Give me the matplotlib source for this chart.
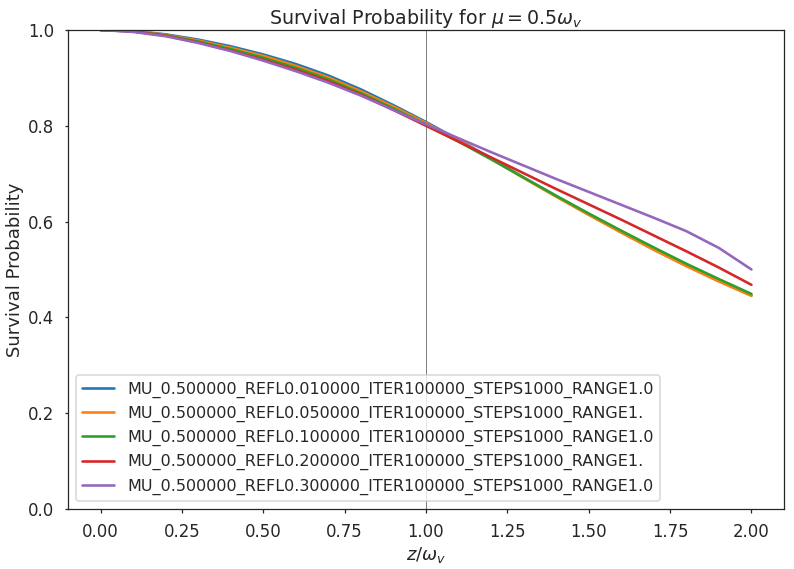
import matplotlib
matplotlib.use("Agg")
import matplotlib.pyplot as plt
import seaborn as sns

x = [0.0, 0.1, 0.2, 0.3, 0.4, 0.5, 0.6, 0.7, 0.8, 0.9, 1.0,
     1.1, 1.2, 1.3, 1.4, 1.5, 1.6, 1.7, 1.8, 1.9, 2.0]

labels = [
    "MU_0.500000_REFL0.010000_ITER100000_STEPS1000_RANGE1.0",
    "MU_0.500000_REFL0.050000_ITER100000_STEPS1000_RANGE1.",
    "MU_0.500000_REFL0.100000_ITER100000_STEPS1000_RANGE1.0",
    "MU_0.500000_REFL0.200000_ITER100000_STEPS1000_RANGE1.",
    "MU_0.500000_REFL0.300000_ITER100000_STEPS1000_RANGE1.0",
]

refl_001 = [1.000, 0.998, 0.991, 0.980, 0.966, 0.949, 0.929, 0.905, 0.876, 0.843, 0.808,
            0.771, 0.732, 0.692, 0.653, 0.615, 0.578, 0.542, 0.508, 0.476, 0.446]
refl_005 = [1.000, 0.998, 0.990, 0.978, 0.963, 0.946, 0.925, 0.901, 0.872, 0.840, 0.806,
            0.770, 0.731, 0.691, 0.652, 0.614, 0.577, 0.541, 0.507, 0.475, 0.445]
refl_010 = [1.000, 0.997, 0.989, 0.976, 0.960, 0.942, 0.921, 0.897, 0.868, 0.836, 0.803,
            0.767, 0.730, 0.692, 0.654, 0.617, 0.581, 0.546, 0.512, 0.480, 0.449]
refl_020 = [1.000, 0.997, 0.988, 0.974, 0.957, 0.938, 0.917, 0.893, 0.865, 0.833, 0.800,
            0.767, 0.734, 0.701, 0.668, 0.636, 0.604, 0.571, 0.538, 0.504, 0.468]
refl_030 = [1.000, 0.996, 0.987, 0.973, 0.956, 0.936, 0.914, 0.890, 0.863, 0.833, 0.803,
            0.774, 0.745, 0.717, 0.689, 0.662, 0.635, 0.608, 0.580, 0.545, 0.500]

series = [refl_001, refl_005, refl_010, refl_020, refl_030]
colors = ["#1f77b4", "#ff7f0e", "#2ca02c", "#d62728", "#9467bd"]

sns.set_theme(context="talk", style="ticks")
plt.rcParams["font.family"] = ["DejaVu Sans"]

fig = plt.figure(figsize=(794 / 72, 569 / 72), dpi=72)
ax = fig.add_axes([68 / 794, 60 / 569, 716 / 794, 479 / 569])

ax.axvline(1.0, color="gray", lw=1.0, zorder=1)
for ys, lab, c in zip(series, labels, colors):
    ax.plot(x, ys, label=lab, color=c, lw=2.6, zorder=2)

ax.set_ylim(0, 1)
ax.set_xticks([0.0, 0.25, 0.5, 0.75, 1.0, 1.25, 1.5, 1.75, 2.0])
ax.tick_params(length=3.5, width=1.25, pad=10.5)
for s in ax.spines.values():
    s.set_linewidth(1.25)
ax.set_title(r"Survival Probability for $\mu=0.5\omega_v$", fontsize=19)
ax.set_xlabel(r"$z/\omega_v$")
ax.set_ylabel("Survival Probability")
ax.legend(loc="lower left", fontsize=16)

fig.savefig("out.png", dpi=72)
